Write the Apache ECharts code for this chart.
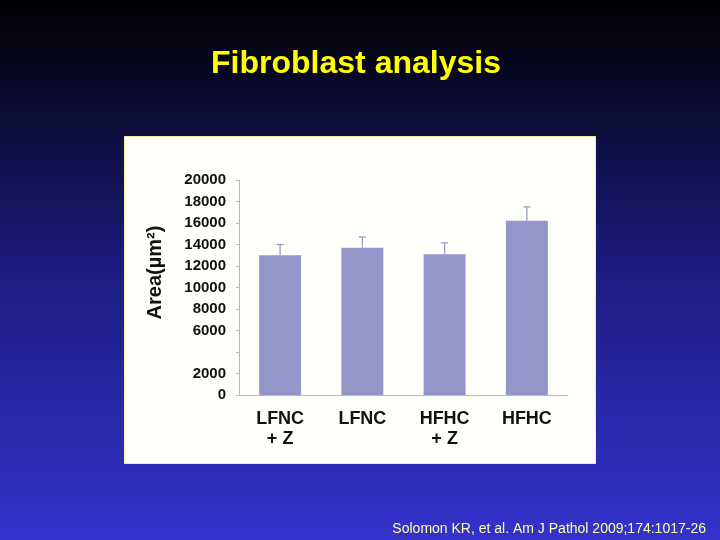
<!DOCTYPE html>
<html>
<head>
<meta charset="utf-8">
<script src="https://cdn.jsdelivr.net/npm/echarts@6/dist/echarts.min.js"></script>
<style>html,body{margin:0;padding:0;background:#000;}#c{width:720px;height:540px;}</style>
</head>
<body>
<div id="c"></div>
<script>
const categories = ['LFNC\n+ Z', 'LFNC', 'HFHC\n+ Z', 'HFHC'];
const areaMeans = [13000, 13700, 13100, 16200];
const areaErrors = [1000, 1000, 1050, 1300];
const yTickValues = [0, 2000, 6000, 8000, 10000, 12000, 14000, 16000, 18000, 20000];

const chart = echarts.init(document.getElementById('c'));
const errData = areaMeans.map((v, i) => [i, v, v + areaErrors[i]]);

chart.setOption({
  animation: false,
  backgroundColor: {
    type: 'linear', x: 0, y: 0, x2: 0, y2: 1,
    colorStops: [
      { offset: 0, color: '#000000' },
      { offset: 0.5, color: '#1c1c80' },
      { offset: 1, color: '#3333cc' }
    ]
  },
  title: [{
    text: 'Fibroblast analysis',
    left: 351, top: 43, textAlign: 'center',
    textStyle: { color: '#ffff00', fontFamily: 'Liberation Sans', fontWeight: 'bold', fontSize: 32 }
  }, {
    text: 'Solomon KR, et al. Am J Pathol 2009;174:1017-26',
    right: 9, top: 517,
    textStyle: { color: '#ffffa8', fontFamily: 'Liberation Sans', fontWeight: 'normal', fontSize: 14 }
  }],
  graphic: [{
    type: 'rect', z: -1, silent: true,
    shape: { x: 124.5, y: 136.5, width: 471, height: 327 },
    style: { fill: '#fffffb', stroke: '#f4f0a0', lineWidth: 1 }
  }],
  grid: { left: 239, right: 152, top: 180, bottom: 145 },
  xAxis: {
    type: 'category',
    data: categories,
    axisLine: { lineStyle: { color: '#b8b8b8', width: 1 } },
    axisTick: { show: false },
    axisLabel: {
      color: '#111', fontFamily: 'Liberation Sans', fontWeight: 'bold', fontSize: 18,
      lineHeight: 20, margin: 14, interval: 0
    }
  },
  yAxis: {
    type: 'value', min: 0, max: 20000, interval: 2000,
    name: 'Area(µm²)', nameLocation: 'middle', nameGap: 74, nameRotate: 90,
    nameTextStyle: { color: '#111', fontFamily: 'Liberation Sans', fontWeight: 'bold', fontSize: 20, padding: [0, 0, 0, 30] },
    axisLine: { show: true, lineStyle: { color: '#b8b8b8', width: 1 } },
    axisTick: { show: true, length: 3, lineStyle: { color: '#b8b8b8' } },
    splitLine: { show: false },
    axisLabel: {
      color: '#111', fontFamily: 'Liberation Sans', fontWeight: 'bold', fontSize: 15, margin: 13,
      formatter: v => yTickValues.includes(v) ? String(v) : ''
    }
  },
  series: [{
    type: 'bar',
    data: areaMeans,
    barWidth: '51%',
    itemStyle: { color: '#9495c9' }
  }, {
    type: 'custom',
    data: errData,
    z: 1,
    renderItem: function (params, api) {
      const x = api.value(0);
      const top = api.coord([x, api.value(2)]);
      const base = api.coord([x, api.value(1)]);
      const cap = 3.5;
      const c = '#9a9bc8';
      return {
        type: 'group',
        children: [
          { type: 'line', shape: { x1: top[0], y1: top[1], x2: base[0], y2: base[1] }, style: { stroke: c, lineWidth: 1.3 } },
          { type: 'line', shape: { x1: top[0] - cap, y1: top[1], x2: top[0] + cap, y2: top[1] }, style: { stroke: c, lineWidth: 1.3 } }
        ]
      };
    }
  }]
});
</script>
</body>
</html>
